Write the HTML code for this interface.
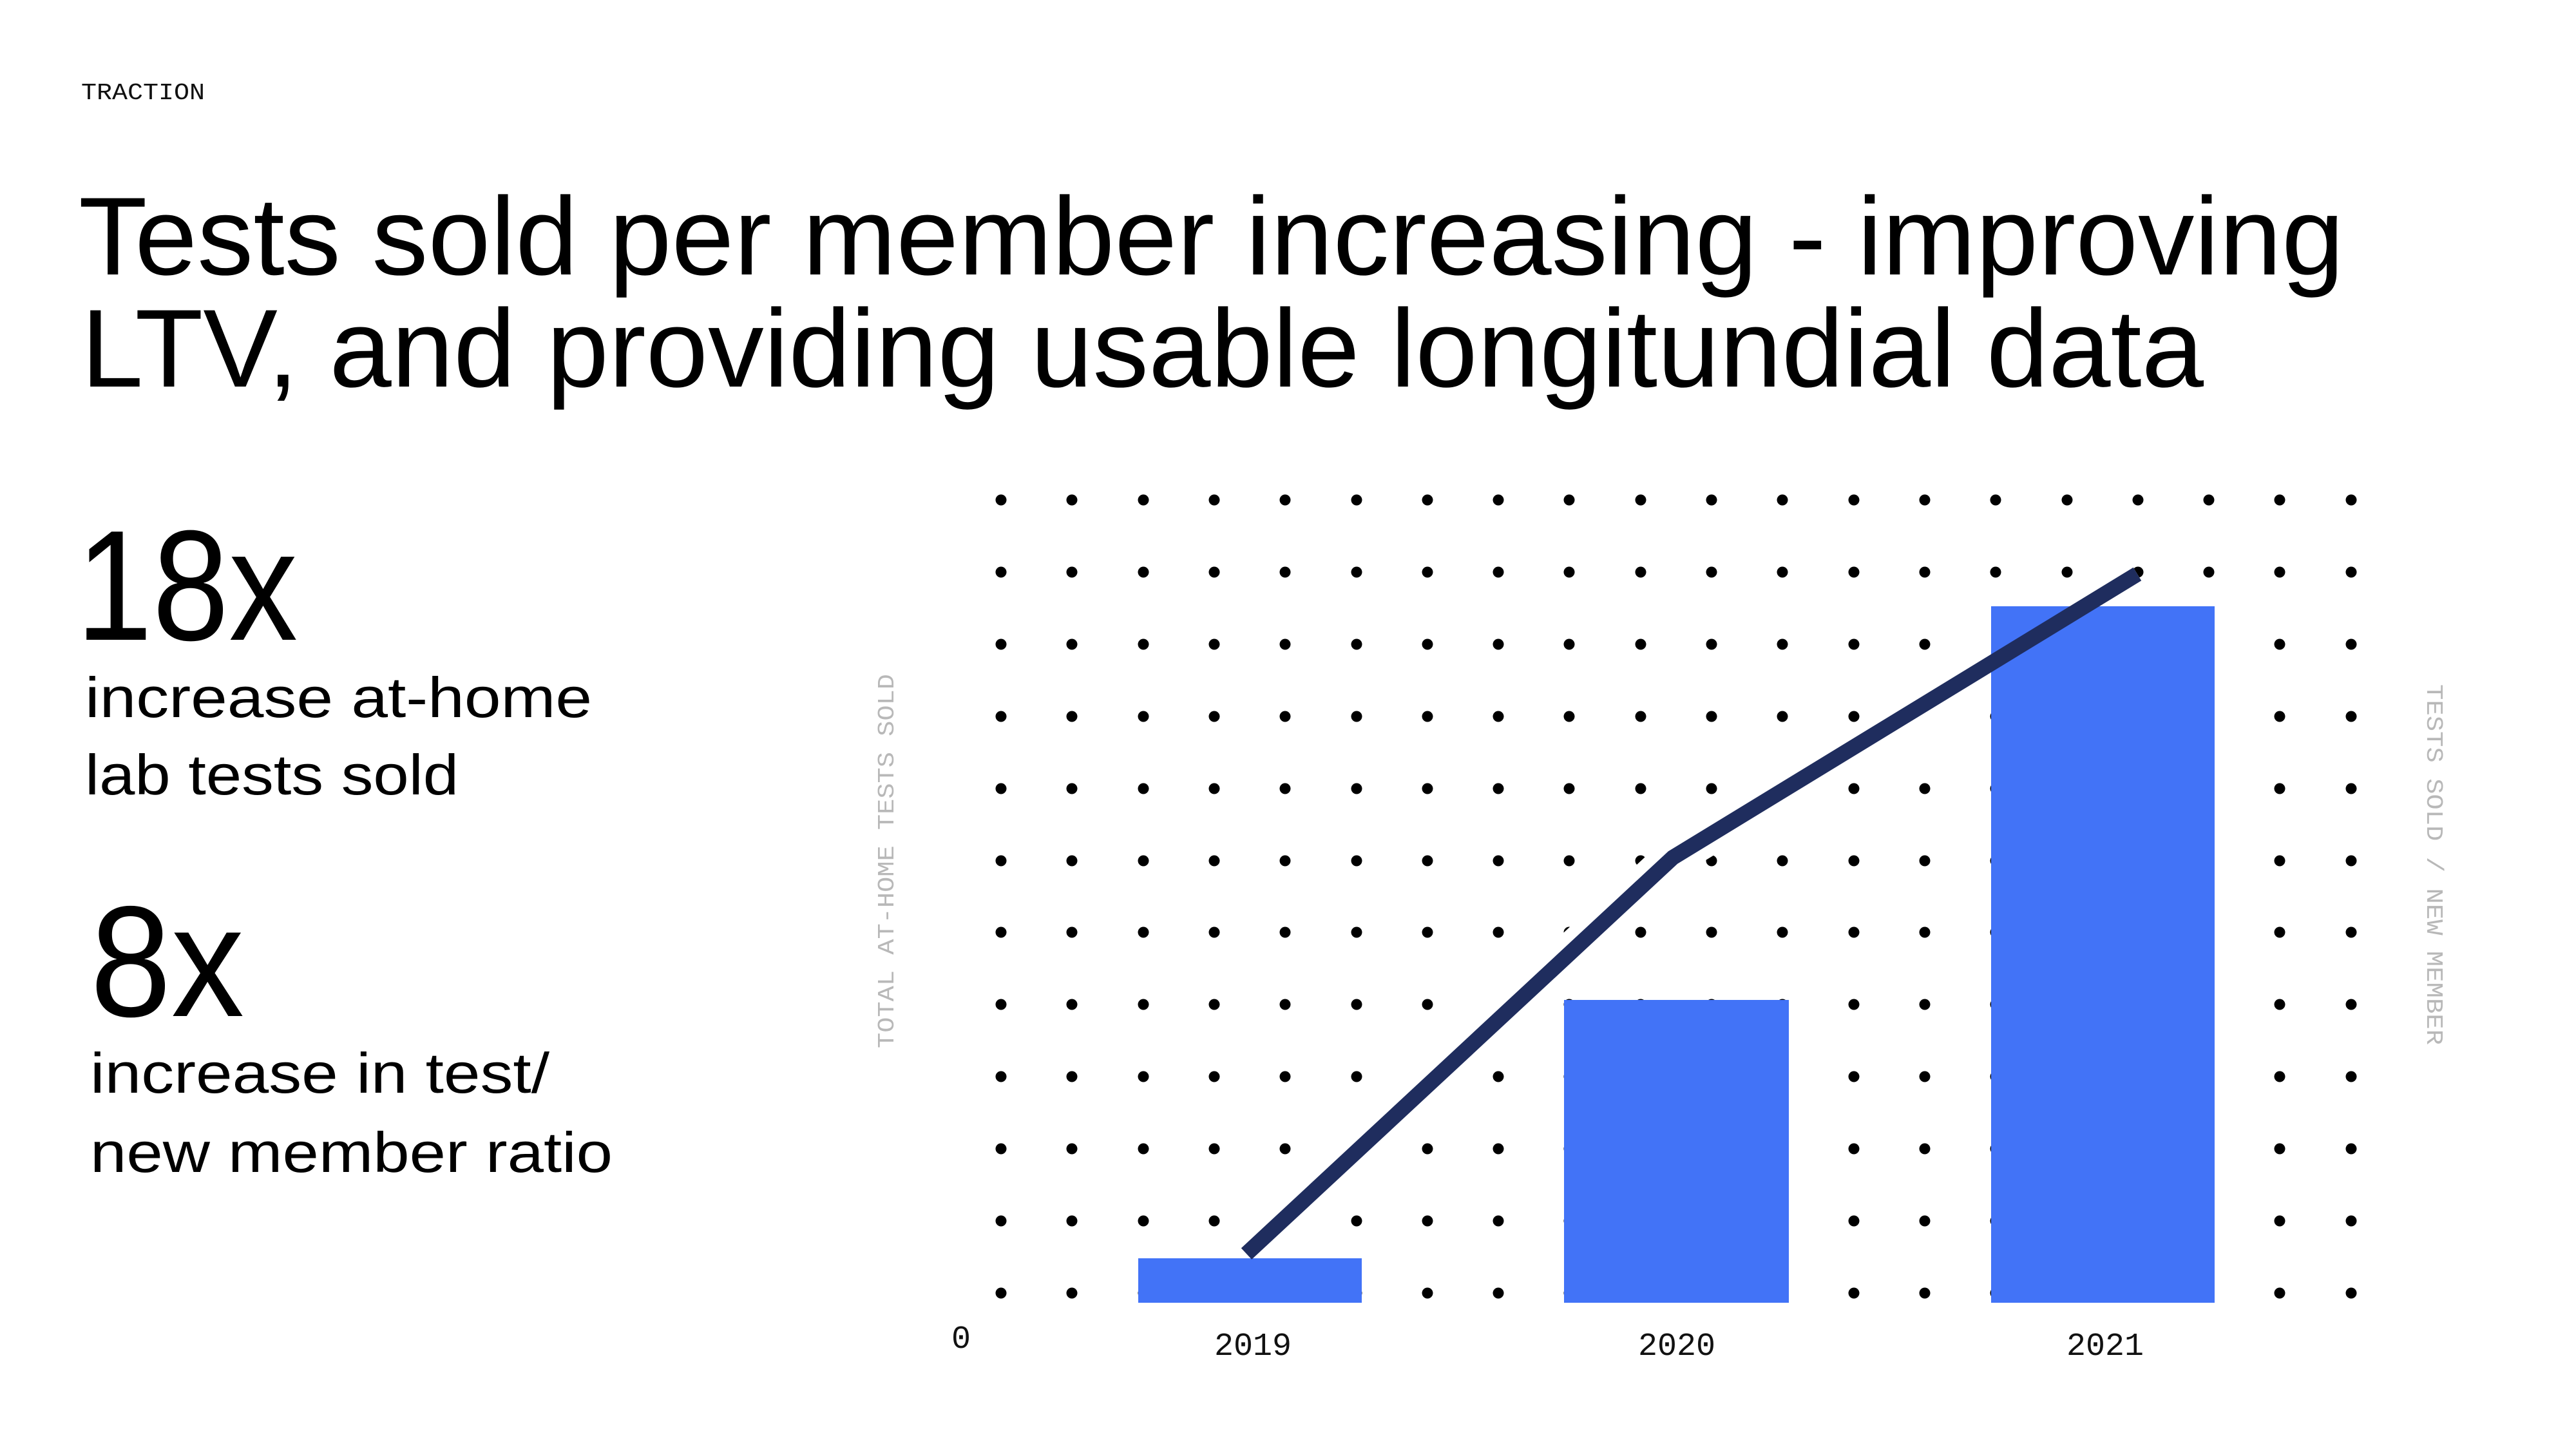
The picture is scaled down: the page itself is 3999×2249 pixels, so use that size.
<!DOCTYPE html>
<html><head><meta charset="utf-8"><style>html,body{margin:0;padding:0;background:#fff}svg{display:block}</style></head>
<body>
<svg width="3999" height="2249" viewBox="0 0 3999 2249" xmlns="http://www.w3.org/2000/svg">
<rect width="3999" height="2249" fill="#fff"/>
<text x="126" y="154" font-family="Liberation Mono, monospace" font-size="36" fill="#111" textLength="192" lengthAdjust="spacingAndGlyphs">TRACTION</text>
<g font-family="Liberation Sans, sans-serif" fill="#000">
<text x="122" y="426" font-size="172" textLength="3517" lengthAdjust="spacingAndGlyphs">Tests sold per member increasing - improving</text>
<text x="126" y="600" font-size="172" textLength="3295" lengthAdjust="spacingAndGlyphs">LTV, and providing usable longitundial data</text>
<text x="118" y="993" font-size="244" textLength="344" lengthAdjust="spacingAndGlyphs">18x</text>
<text x="132" y="1113" font-size="88" textLength="787" lengthAdjust="spacingAndGlyphs">increase at-home</text>
<text x="132" y="1233" font-size="88" textLength="580" lengthAdjust="spacingAndGlyphs">lab tests sold</text>
<text x="140" y="1577" font-size="245" textLength="239" lengthAdjust="spacingAndGlyphs">8x</text>
<text x="140" y="1696" font-size="88" textLength="713" lengthAdjust="spacingAndGlyphs">increase in test/</text>
<text x="140" y="1819" font-size="88" textLength="811" lengthAdjust="spacingAndGlyphs">new member ratio</text>
</g>
<g fill="#000">
<circle cx="1554" cy="776" r="8.5"/><circle cx="1664" cy="776" r="8.5"/><circle cx="1775" cy="776" r="8.5"/><circle cx="1885" cy="776" r="8.5"/><circle cx="1995" cy="776" r="8.5"/><circle cx="2106" cy="776" r="8.5"/><circle cx="2216" cy="776" r="8.5"/><circle cx="2326" cy="776" r="8.5"/><circle cx="2436" cy="776" r="8.5"/><circle cx="2547" cy="776" r="8.5"/><circle cx="2657" cy="776" r="8.5"/><circle cx="2767" cy="776" r="8.5"/><circle cx="2878" cy="776" r="8.5"/><circle cx="2988" cy="776" r="8.5"/><circle cx="3098" cy="776" r="8.5"/><circle cx="3209" cy="776" r="8.5"/><circle cx="3319" cy="776" r="8.5"/><circle cx="3429" cy="776" r="8.5"/><circle cx="3539" cy="776" r="8.5"/><circle cx="3650" cy="776" r="8.5"/>
<circle cx="1554" cy="888" r="8.5"/><circle cx="1664" cy="888" r="8.5"/><circle cx="1775" cy="888" r="8.5"/><circle cx="1885" cy="888" r="8.5"/><circle cx="1995" cy="888" r="8.5"/><circle cx="2106" cy="888" r="8.5"/><circle cx="2216" cy="888" r="8.5"/><circle cx="2326" cy="888" r="8.5"/><circle cx="2436" cy="888" r="8.5"/><circle cx="2547" cy="888" r="8.5"/><circle cx="2657" cy="888" r="8.5"/><circle cx="2767" cy="888" r="8.5"/><circle cx="2878" cy="888" r="8.5"/><circle cx="2988" cy="888" r="8.5"/><circle cx="3098" cy="888" r="8.5"/><circle cx="3209" cy="888" r="8.5"/><circle cx="3319" cy="888" r="8.5"/><circle cx="3429" cy="888" r="8.5"/><circle cx="3539" cy="888" r="8.5"/><circle cx="3650" cy="888" r="8.5"/>
<circle cx="1554" cy="1000" r="8.5"/><circle cx="1664" cy="1000" r="8.5"/><circle cx="1775" cy="1000" r="8.5"/><circle cx="1885" cy="1000" r="8.5"/><circle cx="1995" cy="1000" r="8.5"/><circle cx="2106" cy="1000" r="8.5"/><circle cx="2216" cy="1000" r="8.5"/><circle cx="2326" cy="1000" r="8.5"/><circle cx="2436" cy="1000" r="8.5"/><circle cx="2547" cy="1000" r="8.5"/><circle cx="2657" cy="1000" r="8.5"/><circle cx="2767" cy="1000" r="8.5"/><circle cx="2878" cy="1000" r="8.5"/><circle cx="2988" cy="1000" r="8.5"/><circle cx="3098" cy="1000" r="8.5"/><circle cx="3209" cy="1000" r="8.5"/><circle cx="3319" cy="1000" r="8.5"/><circle cx="3429" cy="1000" r="8.5"/><circle cx="3539" cy="1000" r="8.5"/><circle cx="3650" cy="1000" r="8.5"/>
<circle cx="1554" cy="1112" r="8.5"/><circle cx="1664" cy="1112" r="8.5"/><circle cx="1775" cy="1112" r="8.5"/><circle cx="1885" cy="1112" r="8.5"/><circle cx="1995" cy="1112" r="8.5"/><circle cx="2106" cy="1112" r="8.5"/><circle cx="2216" cy="1112" r="8.5"/><circle cx="2326" cy="1112" r="8.5"/><circle cx="2436" cy="1112" r="8.5"/><circle cx="2547" cy="1112" r="8.5"/><circle cx="2657" cy="1112" r="8.5"/><circle cx="2767" cy="1112" r="8.5"/><circle cx="2878" cy="1112" r="8.5"/><circle cx="2988" cy="1112" r="8.5"/><circle cx="3098" cy="1112" r="8.5"/><circle cx="3209" cy="1112" r="8.5"/><circle cx="3319" cy="1112" r="8.5"/><circle cx="3429" cy="1112" r="8.5"/><circle cx="3539" cy="1112" r="8.5"/><circle cx="3650" cy="1112" r="8.5"/>
<circle cx="1554" cy="1224" r="8.5"/><circle cx="1664" cy="1224" r="8.5"/><circle cx="1775" cy="1224" r="8.5"/><circle cx="1885" cy="1224" r="8.5"/><circle cx="1995" cy="1224" r="8.5"/><circle cx="2106" cy="1224" r="8.5"/><circle cx="2216" cy="1224" r="8.5"/><circle cx="2326" cy="1224" r="8.5"/><circle cx="2436" cy="1224" r="8.5"/><circle cx="2547" cy="1224" r="8.5"/><circle cx="2657" cy="1224" r="8.5"/><circle cx="2767" cy="1224" r="8.5"/><circle cx="2878" cy="1224" r="8.5"/><circle cx="2988" cy="1224" r="8.5"/><circle cx="3098" cy="1224" r="8.5"/><circle cx="3209" cy="1224" r="8.5"/><circle cx="3319" cy="1224" r="8.5"/><circle cx="3429" cy="1224" r="8.5"/><circle cx="3539" cy="1224" r="8.5"/><circle cx="3650" cy="1224" r="8.5"/>
<circle cx="1554" cy="1336" r="8.5"/><circle cx="1664" cy="1336" r="8.5"/><circle cx="1775" cy="1336" r="8.5"/><circle cx="1885" cy="1336" r="8.5"/><circle cx="1995" cy="1336" r="8.5"/><circle cx="2106" cy="1336" r="8.5"/><circle cx="2216" cy="1336" r="8.5"/><circle cx="2326" cy="1336" r="8.5"/><circle cx="2436" cy="1336" r="8.5"/><circle cx="2547" cy="1336" r="8.5"/><circle cx="2657" cy="1336" r="8.5"/><circle cx="2767" cy="1336" r="8.5"/><circle cx="2878" cy="1336" r="8.5"/><circle cx="2988" cy="1336" r="8.5"/><circle cx="3098" cy="1336" r="8.5"/><circle cx="3209" cy="1336" r="8.5"/><circle cx="3319" cy="1336" r="8.5"/><circle cx="3429" cy="1336" r="8.5"/><circle cx="3539" cy="1336" r="8.5"/><circle cx="3650" cy="1336" r="8.5"/>
<circle cx="1554" cy="1447" r="8.5"/><circle cx="1664" cy="1447" r="8.5"/><circle cx="1775" cy="1447" r="8.5"/><circle cx="1885" cy="1447" r="8.5"/><circle cx="1995" cy="1447" r="8.5"/><circle cx="2106" cy="1447" r="8.5"/><circle cx="2216" cy="1447" r="8.5"/><circle cx="2326" cy="1447" r="8.5"/><circle cx="2436" cy="1447" r="8.5"/><circle cx="2547" cy="1447" r="8.5"/><circle cx="2657" cy="1447" r="8.5"/><circle cx="2767" cy="1447" r="8.5"/><circle cx="2878" cy="1447" r="8.5"/><circle cx="2988" cy="1447" r="8.5"/><circle cx="3098" cy="1447" r="8.5"/><circle cx="3209" cy="1447" r="8.5"/><circle cx="3319" cy="1447" r="8.5"/><circle cx="3429" cy="1447" r="8.5"/><circle cx="3539" cy="1447" r="8.5"/><circle cx="3650" cy="1447" r="8.5"/>
<circle cx="1554" cy="1559" r="8.5"/><circle cx="1664" cy="1559" r="8.5"/><circle cx="1775" cy="1559" r="8.5"/><circle cx="1885" cy="1559" r="8.5"/><circle cx="1995" cy="1559" r="8.5"/><circle cx="2106" cy="1559" r="8.5"/><circle cx="2216" cy="1559" r="8.5"/><circle cx="2326" cy="1559" r="8.5"/><circle cx="2436" cy="1559" r="8.5"/><circle cx="2547" cy="1559" r="8.5"/><circle cx="2657" cy="1559" r="8.5"/><circle cx="2767" cy="1559" r="8.5"/><circle cx="2878" cy="1559" r="8.5"/><circle cx="2988" cy="1559" r="8.5"/><circle cx="3098" cy="1559" r="8.5"/><circle cx="3209" cy="1559" r="8.5"/><circle cx="3319" cy="1559" r="8.5"/><circle cx="3429" cy="1559" r="8.5"/><circle cx="3539" cy="1559" r="8.5"/><circle cx="3650" cy="1559" r="8.5"/>
<circle cx="1554" cy="1671" r="8.5"/><circle cx="1664" cy="1671" r="8.5"/><circle cx="1775" cy="1671" r="8.5"/><circle cx="1885" cy="1671" r="8.5"/><circle cx="1995" cy="1671" r="8.5"/><circle cx="2106" cy="1671" r="8.5"/><circle cx="2216" cy="1671" r="8.5"/><circle cx="2326" cy="1671" r="8.5"/><circle cx="2436" cy="1671" r="8.5"/><circle cx="2547" cy="1671" r="8.5"/><circle cx="2657" cy="1671" r="8.5"/><circle cx="2767" cy="1671" r="8.5"/><circle cx="2878" cy="1671" r="8.5"/><circle cx="2988" cy="1671" r="8.5"/><circle cx="3098" cy="1671" r="8.5"/><circle cx="3209" cy="1671" r="8.5"/><circle cx="3319" cy="1671" r="8.5"/><circle cx="3429" cy="1671" r="8.5"/><circle cx="3539" cy="1671" r="8.5"/><circle cx="3650" cy="1671" r="8.5"/>
<circle cx="1554" cy="1783" r="8.5"/><circle cx="1664" cy="1783" r="8.5"/><circle cx="1775" cy="1783" r="8.5"/><circle cx="1885" cy="1783" r="8.5"/><circle cx="1995" cy="1783" r="8.5"/><circle cx="2106" cy="1783" r="8.5"/><circle cx="2216" cy="1783" r="8.5"/><circle cx="2326" cy="1783" r="8.5"/><circle cx="2436" cy="1783" r="8.5"/><circle cx="2547" cy="1783" r="8.5"/><circle cx="2657" cy="1783" r="8.5"/><circle cx="2767" cy="1783" r="8.5"/><circle cx="2878" cy="1783" r="8.5"/><circle cx="2988" cy="1783" r="8.5"/><circle cx="3098" cy="1783" r="8.5"/><circle cx="3209" cy="1783" r="8.5"/><circle cx="3319" cy="1783" r="8.5"/><circle cx="3429" cy="1783" r="8.5"/><circle cx="3539" cy="1783" r="8.5"/><circle cx="3650" cy="1783" r="8.5"/>
<circle cx="1554" cy="1895" r="8.5"/><circle cx="1664" cy="1895" r="8.5"/><circle cx="1775" cy="1895" r="8.5"/><circle cx="1885" cy="1895" r="8.5"/><circle cx="1995" cy="1895" r="8.5"/><circle cx="2106" cy="1895" r="8.5"/><circle cx="2216" cy="1895" r="8.5"/><circle cx="2326" cy="1895" r="8.5"/><circle cx="2436" cy="1895" r="8.5"/><circle cx="2547" cy="1895" r="8.5"/><circle cx="2657" cy="1895" r="8.5"/><circle cx="2767" cy="1895" r="8.5"/><circle cx="2878" cy="1895" r="8.5"/><circle cx="2988" cy="1895" r="8.5"/><circle cx="3098" cy="1895" r="8.5"/><circle cx="3209" cy="1895" r="8.5"/><circle cx="3319" cy="1895" r="8.5"/><circle cx="3429" cy="1895" r="8.5"/><circle cx="3539" cy="1895" r="8.5"/><circle cx="3650" cy="1895" r="8.5"/>
<circle cx="1554" cy="2007" r="8.5"/><circle cx="1664" cy="2007" r="8.5"/><circle cx="1775" cy="2007" r="8.5"/><circle cx="1885" cy="2007" r="8.5"/><circle cx="1995" cy="2007" r="8.5"/><circle cx="2106" cy="2007" r="8.5"/><circle cx="2216" cy="2007" r="8.5"/><circle cx="2326" cy="2007" r="8.5"/><circle cx="2436" cy="2007" r="8.5"/><circle cx="2547" cy="2007" r="8.5"/><circle cx="2657" cy="2007" r="8.5"/><circle cx="2767" cy="2007" r="8.5"/><circle cx="2878" cy="2007" r="8.5"/><circle cx="2988" cy="2007" r="8.5"/><circle cx="3098" cy="2007" r="8.5"/><circle cx="3209" cy="2007" r="8.5"/><circle cx="3319" cy="2007" r="8.5"/><circle cx="3429" cy="2007" r="8.5"/><circle cx="3539" cy="2007" r="8.5"/><circle cx="3650" cy="2007" r="8.5"/>
</g>
<polyline points="1935,1946 2597,1331 3318,891" fill="none" stroke="#ffffff" stroke-width="60"/>
<rect x="1767" y="1953" width="347" height="69" fill="#4273F7"/>
<rect x="2428" y="1552" width="349" height="470" fill="#4273F7"/>
<rect x="3091" y="941" width="347" height="1081" fill="#4273F7"/>
<polyline points="1935,1946 2597,1331 3318,891" fill="none" stroke="#1f2d5e" stroke-width="24" stroke-linejoin="round"/>
<g font-family="Liberation Mono, monospace" fill="#111" font-size="50" text-anchor="middle">
<text x="1945" y="2103">2019</text>
<text x="2603" y="2103">2020</text>
<text x="3268" y="2103">2021</text>
<text x="1492" y="2092">0</text>
</g>
<g font-family="Liberation Mono, monospace" fill="#b8b8b8" font-size="36">
<text transform="translate(1387,1627) rotate(-90)" textLength="581" lengthAdjust="spacingAndGlyphs">TOTAL AT-HOME TESTS SOLD</text>
<text transform="translate(3768,1062) rotate(90)" textLength="560" lengthAdjust="spacingAndGlyphs">TESTS SOLD / NEW MEMBER</text>
</g>
</svg>
</body></html>
